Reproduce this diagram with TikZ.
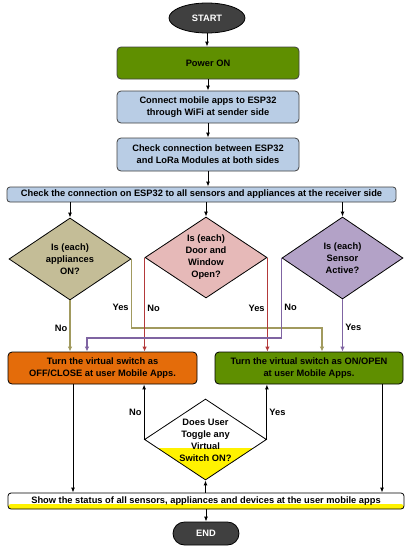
\documentclass[tikz,border=0pt]{standalone}
\usepackage{fontspec}
\setmainfont{Liberation Sans}
\usetikzlibrary{shapes.geometric,arrows.meta,calc}
\definecolor{darkg}{HTML}{404040}
\definecolor{pgreen}{HTML}{5F8F00}
\definecolor{lblue}{HTML}{B9CDE5}
\definecolor{tanf}{HTML}{C4BD97}
\definecolor{pinkf}{HTML}{E6B9B8}
\definecolor{purf}{HTML}{B3A2C7}
\definecolor{orangef}{HTML}{E46C0A}
\definecolor{tanl}{HTML}{A19A5E}
\definecolor{redl}{HTML}{B3393A}
\definecolor{purl}{HTML}{7F64A2}
\tikzset{
  every node/.style={font=\fontsize{9.3}{12}\selectfont\bfseries},
  boxn/.style={draw=darkg, line width=0.8pt, rounded corners=4pt, inner sep=0pt, align=center},
  term/.style={draw=black, line width=0.8pt, fill=darkg, text=white, inner sep=0pt},
  dia/.style={draw=black, line width=0.8pt, shape=diamond, inner sep=0pt},
  diat/.style={align=center, inner sep=0pt},
  arr/.style={line width=1pt, -{Latex[length=5pt,width=4pt]}},
  carr/.style={line width=1.6pt, -{Latex[length=5pt,width=4.5pt]}},
  lbl/.style={inner sep=2pt},
}
\begin{document}
\begin{tikzpicture}[x=1pt,y=-1pt]
\useasboundingbox (0,0) rectangle (409,550);
% terminals and boxes
\node[term, ellipse, minimum width=76pt, minimum height=30pt] (start) at (207,18) {START};
\node[boxn, fill=pgreen, minimum width=182pt, minimum height=32pt] (power) at (208,63) {Power ON};
\node[boxn, fill=lblue, minimum width=182pt, minimum height=32pt] (connect) at (208,107) {Connect mobile apps to ESP32\\through WiFi at sender side};
\node[boxn, fill=lblue, minimum width=182pt, minimum height=33pt] (check) at (208,154.5) {Check connection between ESP32\\and LoRa Modules at both sides};
\node[boxn, fill=lblue, minimum width=389pt, minimum height=15pt, rounded corners=3pt] (bar) at (201.5,194.5) {Check the connection on ESP32 to all sensors and appliances at the receiver side};
% diamonds
\node[dia, fill=tanf, minimum width=122pt, minimum height=82pt] (d1) at (70,259) {};
\node[diat] (d1t) at (d1) {Is (each)\\appliances\\ON?};
\node[dia, fill=pinkf, minimum width=122pt, minimum height=81pt] (d2) at (206,257.5) {};
\node[diat] (d2t) at (d2) {Is (each)\\Door and\\Window\\Open?};
\node[dia, fill=purf, minimum width=121pt, minimum height=82pt] (d3) at (342.5,258) {};
\node[diat] (d3t) at (d3) {Is (each)\\Sensor\\Active?};
% action boxes
\node[boxn, draw=black, fill=orangef, minimum width=189pt, minimum height=32pt] (off) at (102.5,368) {Turn the virtual switch as\\OFF/CLOSE at user Mobile Apps.};
\node[boxn, draw=black, fill=pgreen, minimum width=188pt, minimum height=32pt] (on) at (309,368) {Turn the virtual switch as ON/OPEN\\at user Mobile Apps.};
% toggle diamond
\node[dia, fill=white, minimum width=122pt, minimum height=81pt,
  path picture={\fill[yellow] ([yshift=-8pt]path picture bounding box.west) rectangle (path picture bounding box.south east);}] (d4) at (205.5,439.5) {};
\node[diat] (d4t) at (205.5,440) {Does User\\Toggle any\\Virtual\\Switch ON?};
% final bar
\node[boxn, draw=black, fill=white, minimum width=396pt, minimum height=16pt, rounded corners=3pt,
  path picture={\fill[yellow] ([yshift=5pt]path picture bounding box.south west) rectangle (path picture bounding box.south east);}] (fin) at (206,501) {};
\node[inner sep=0pt] (fint) at (206,501.5) {Show the status of all sensors, appliances and devices at the user mobile apps};
\node[term, rounded corners=11.5pt, minimum width=66pt, minimum height=23pt] (endn) at (206,533.5) {END};
% main flow
\draw[arr] (start.south) -- (start.south |- power.north);
\draw[arr] (power.south) -- (connect.north);
\draw[arr] (connect.south) -- (check.north);
\draw[arr] (check.south) -- (check.south |- bar.north);
\draw[arr] (d1.north |- bar.south) -- (d1.north);
\draw[arr] (d2.north |- bar.south) -- (d2.north);
\draw[arr] (d3.north |- bar.south) -- (d3.north);
% decision connectors
\draw[carr, tanl] (d1.south) -- node[lbl, left, pos=0.55, text=black] {No} (d1.south |- off.north);
\draw[carr, tanl] (d1.east) -- node[lbl, left, pos=0.7, text=black] {Yes} (d1.east |- 0,328) -| ([xshift=13pt]on.north);
\draw[carr, redl] (d2.west) -- node[lbl, right, pos=0.54, text=black] {No} (d2.west |- off.north);
\draw[carr, redl] (d2.east) -- node[lbl, left, pos=0.54, text=black] {Yes} (d2.east |- on.north);
\draw[carr, purl] (d3.west) -- node[lbl, right, pos=0.62, text=black] {No} (d3.west |- 0,338) -| ([xshift=-15.5pt]off.north);
\draw[carr, purl] (d3.south) -- node[lbl, right, pos=0.53, text=black] {Yes} (d3.south |- on.north);
% toggle connectors
\draw[arr] (d4.west) -- node[lbl, left, pos=0.5] {No} (d4.west |- off.south);
\draw[arr] (d4.east) -- node[lbl, right, pos=0.5] {Yes} (d4.east |- on.south);
\draw[arr] ([xshift=-29.5pt]off.south) -- ([xshift=-29.5pt]off.south |- fin.north);
\draw[arr] ([xshift=73pt]on.south) -- ([xshift=73pt]on.south |- fin.north);
\draw[arr] (d4.south |- fin.north) -- (d4.south);
\draw[arr] (fin.south) -- (endn.north);
\end{tikzpicture}
\end{document}
